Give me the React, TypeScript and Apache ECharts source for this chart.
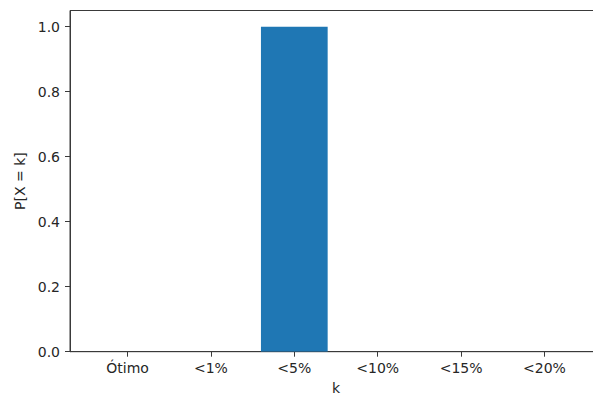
import React, { useEffect, useRef } from "react";
import * as echarts from "echarts";

// Probability mass of each outcome bucket
const categories = ["Ótimo", "<1%", "<5%", "<10%", "<15%", "<20%"];
const probabilities = [0, 0, 1.0, 0, 0, 0];
const yTicks = [0, 0.2, 0.4, 0.6, 0.8, 1.0];

const FONT = "DejaVu Sans";
const TEXT = "#262626";
const SPINE = "#3a3a3a";
const BAR = "#1f77b4";

export default function App() {
  const ref = useRef<HTMLDivElement>(null);

  useEffect(() => {
    if (!ref.current) return;
    const chart = echarts.init(ref.current, undefined, { renderer: "svg" });
    const positions = categories.map((_, i) => i);

    chart.setOption({
      animation: false,
      backgroundColor: "#ffffff",
      textStyle: { fontFamily: FONT },
      grid: {
        left: 70,
        right: 0,
        top: 10.5,
        bottom: 48.3,
        show: true,
        borderColor: SPINE,
        borderWidth: 1,
        backgroundColor: "transparent",
      },
      xAxis: {
        type: "value",
        min: -0.69,
        max: 5.69,
        name: "k",
        nameLocation: "middle",
        nameGap: 29,
        nameTextStyle: { fontFamily: FONT, fontSize: 14, color: TEXT },
        axisLine: { show: true, onZero: false, lineStyle: { color: SPINE, width: 1 } },
        axisTick: {
          show: true,
          length: 5,
          customValues: positions,
          lineStyle: { color: SPINE, width: 1 },
        },
        axisLabel: {
          customValues: positions,
          margin: 9,
          fontFamily: FONT,
          fontSize: 14,
          color: TEXT,
          formatter: (v: number) => categories[Math.round(v)] ?? "",
        },
        splitLine: { show: false },
      },
      yAxis: {
        type: "value",
        min: 0,
        max: 1.05,
        name: "P[X = k]",
        nameLocation: "middle",
        nameGap: 43,
        nameRotate: 90,
        nameTextStyle: { fontFamily: FONT, fontSize: 14, color: TEXT },
        axisLine: { show: true, onZero: false, lineStyle: { color: SPINE, width: 1 } },
        axisTick: {
          show: true,
          length: 5,
          customValues: yTicks,
          lineStyle: { color: SPINE, width: 1 },
        },
        axisLabel: {
          customValues: yTicks,
          margin: 10,
          fontFamily: FONT,
          fontSize: 14,
          color: TEXT,
          formatter: (v: number) => v.toFixed(1),
        },
        splitLine: { show: false },
      },
      series: [
        {
          type: "custom",
          data: probabilities.map((p, i) => [i, p]),
          clip: true,
          renderItem: (_params: any, api: any) => {
            const x = api.value(0);
            const y = api.value(1);
            const a = api.coord([x - 0.4, 0]);
            const b = api.coord([x + 0.4, y]);
            return {
              type: "rect",
              shape: {
                x: a[0],
                y: b[1],
                width: b[0] - a[0],
                height: a[1] - b[1],
              },
              style: { fill: BAR },
            };
          },
        },
      ],
    });

    return () => chart.dispose();
  }, []);

  // The plot frame runs past the right edge of the view, so the chart is wider than its clipping box.
  return (
    <div style={{ position: "absolute", left: 0, top: 0, width: 593, height: 400, overflow: "hidden" }}>
      <div ref={ref} style={{ width: 602, height: 400 }} />
    </div>
  );
}
